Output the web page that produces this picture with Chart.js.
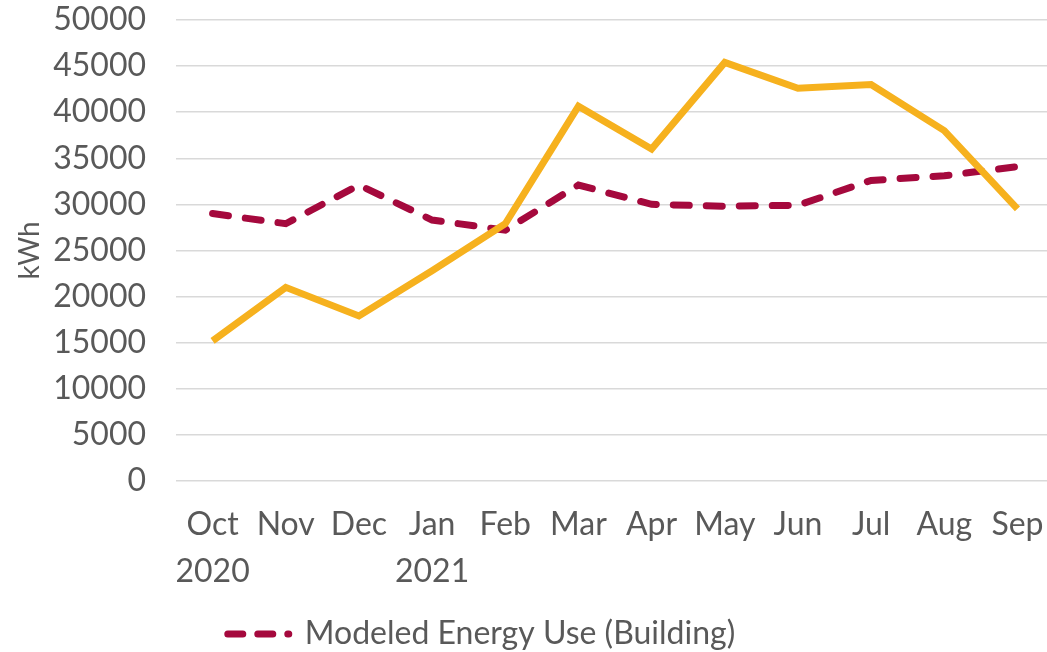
<!DOCTYPE html>
<html>
<head>
<meta charset="utf-8">
<script src="https://cdn.jsdelivr.net/npm/chart.js@4"></script>
<style>
  html, body { margin: 0; padding: 0; overflow: hidden; background: #fff; }
  #wrap { width: 1056px; height: 652px; }
</style>
</head>
<body>
<div id="wrap"><canvas id="energyChart" width="1056" height="652"></canvas></div>
<script>
// Month labels (year under the first month of each year)
const months = [['Oct', '2020'], 'Nov', 'Dec', ['Jan', '2021'], 'Feb', 'Mar', 'Apr', 'May', 'Jun', 'Jul', 'Aug', 'Sep'];

// Monthly energy, kWh
const actualUse = [15200, 21000, 17900, 22800, 27900, 40650, 36000, 45400, 42600, 43000, 38000, 29500];
const modeledUse = [29000, 27900, 32100, 28300, 27200, 32100, 30000, 29800, 29900, 32600, 33100, 34100];

const yTicks = { min: 0, max: 50000, step: 5000 };

const textGrey = '#595959';
const font = { family: 'Lato, Carlito, sans-serif', size: 32 };
const modeledDash = [16, 17];

// nudge the legend to the left, like the original
const legendShift = {
    id: 'legendShift',
    afterLayout(chart) {
        chart.legend.left -= 52;
        chart.legend.right -= 52;
    }
};

const ctx = document.getElementById('energyChart').getContext('2d');

new Chart(ctx, {
    type: 'line',
    data: {
        labels: months,
        datasets: [{
            label: 'Actual Energy Use',
            data: actualUse,
            borderColor: '#F6B11E',
            borderWidth: 7,
            pointRadius: 0,
            tension: 0,
            order: 1
        }, {
            label: 'Modeled Energy Use (Building)',
            data: modeledUse,
            borderColor: '#A5093D',
            borderWidth: 7,
            borderDash: modeledDash,
            borderCapStyle: 'round',
            pointRadius: 0,
            tension: 0,
            order: 2
        }]
    },
    options: {
        responsive: false,
        animation: false,
        layout: { padding: { left: 11, right: 0, top: 0, bottom: -8 } },
        scales: {
            x: {
                offset: true,
                grid: { display: false },
                border: { display: false },
                ticks: {
                    color: textGrey,
                    font: { ...font, lineHeight: 1.47 },
                    maxRotation: 0,
                    autoSkip: false,
                    padding: 12.5
                }
            },
            y: {
                min: yTicks.min,
                max: yTicks.max,
                border: { display: false },
                grid: { color: '#D9D9D9', lineWidth: 1.5, drawTicks: false },
                afterFit: scale => {
                    scale.width = 165;
                    scale.paddingTop = 20;
                },
                ticks: {
                    stepSize: yTicks.step,
                    color: textGrey,
                    font: font,
                    padding: 30,
                    callback: v => String(v)
                },
                title: {
                    display: true,
                    text: 'kWh',
                    color: textGrey,
                    font: { ...font, size: 28 },
                    padding: { top: 2, bottom: 4 }
                }
            }
        },
        plugins: {
            legend: {
                position: 'bottom',
                labels: {
                    usePointStyle: true,
                    pointStyle: 'line',
                    pointStyleWidth: 61,
                    boxHeight: 7,
                    color: textGrey,
                    font: font,
                    padding: 10,
                    generateLabels(chart) {
                        const items = Chart.defaults.plugins.legend.labels.generateLabels(chart)
                            .filter(item => item.datasetIndex === 1);
                        items.forEach(item => {
                            item.lineDash = [15, 15];
                            item.lineCap = 'round';
                            item.lineWidth = 7;
                            item.strokeStyle = '#A5093D';
                        });
                        return items;
                    }
                }
            },
            tooltip: { enabled: false }
        }
    },
    plugins: [legendShift]
});
</script>
</body>
</html>
